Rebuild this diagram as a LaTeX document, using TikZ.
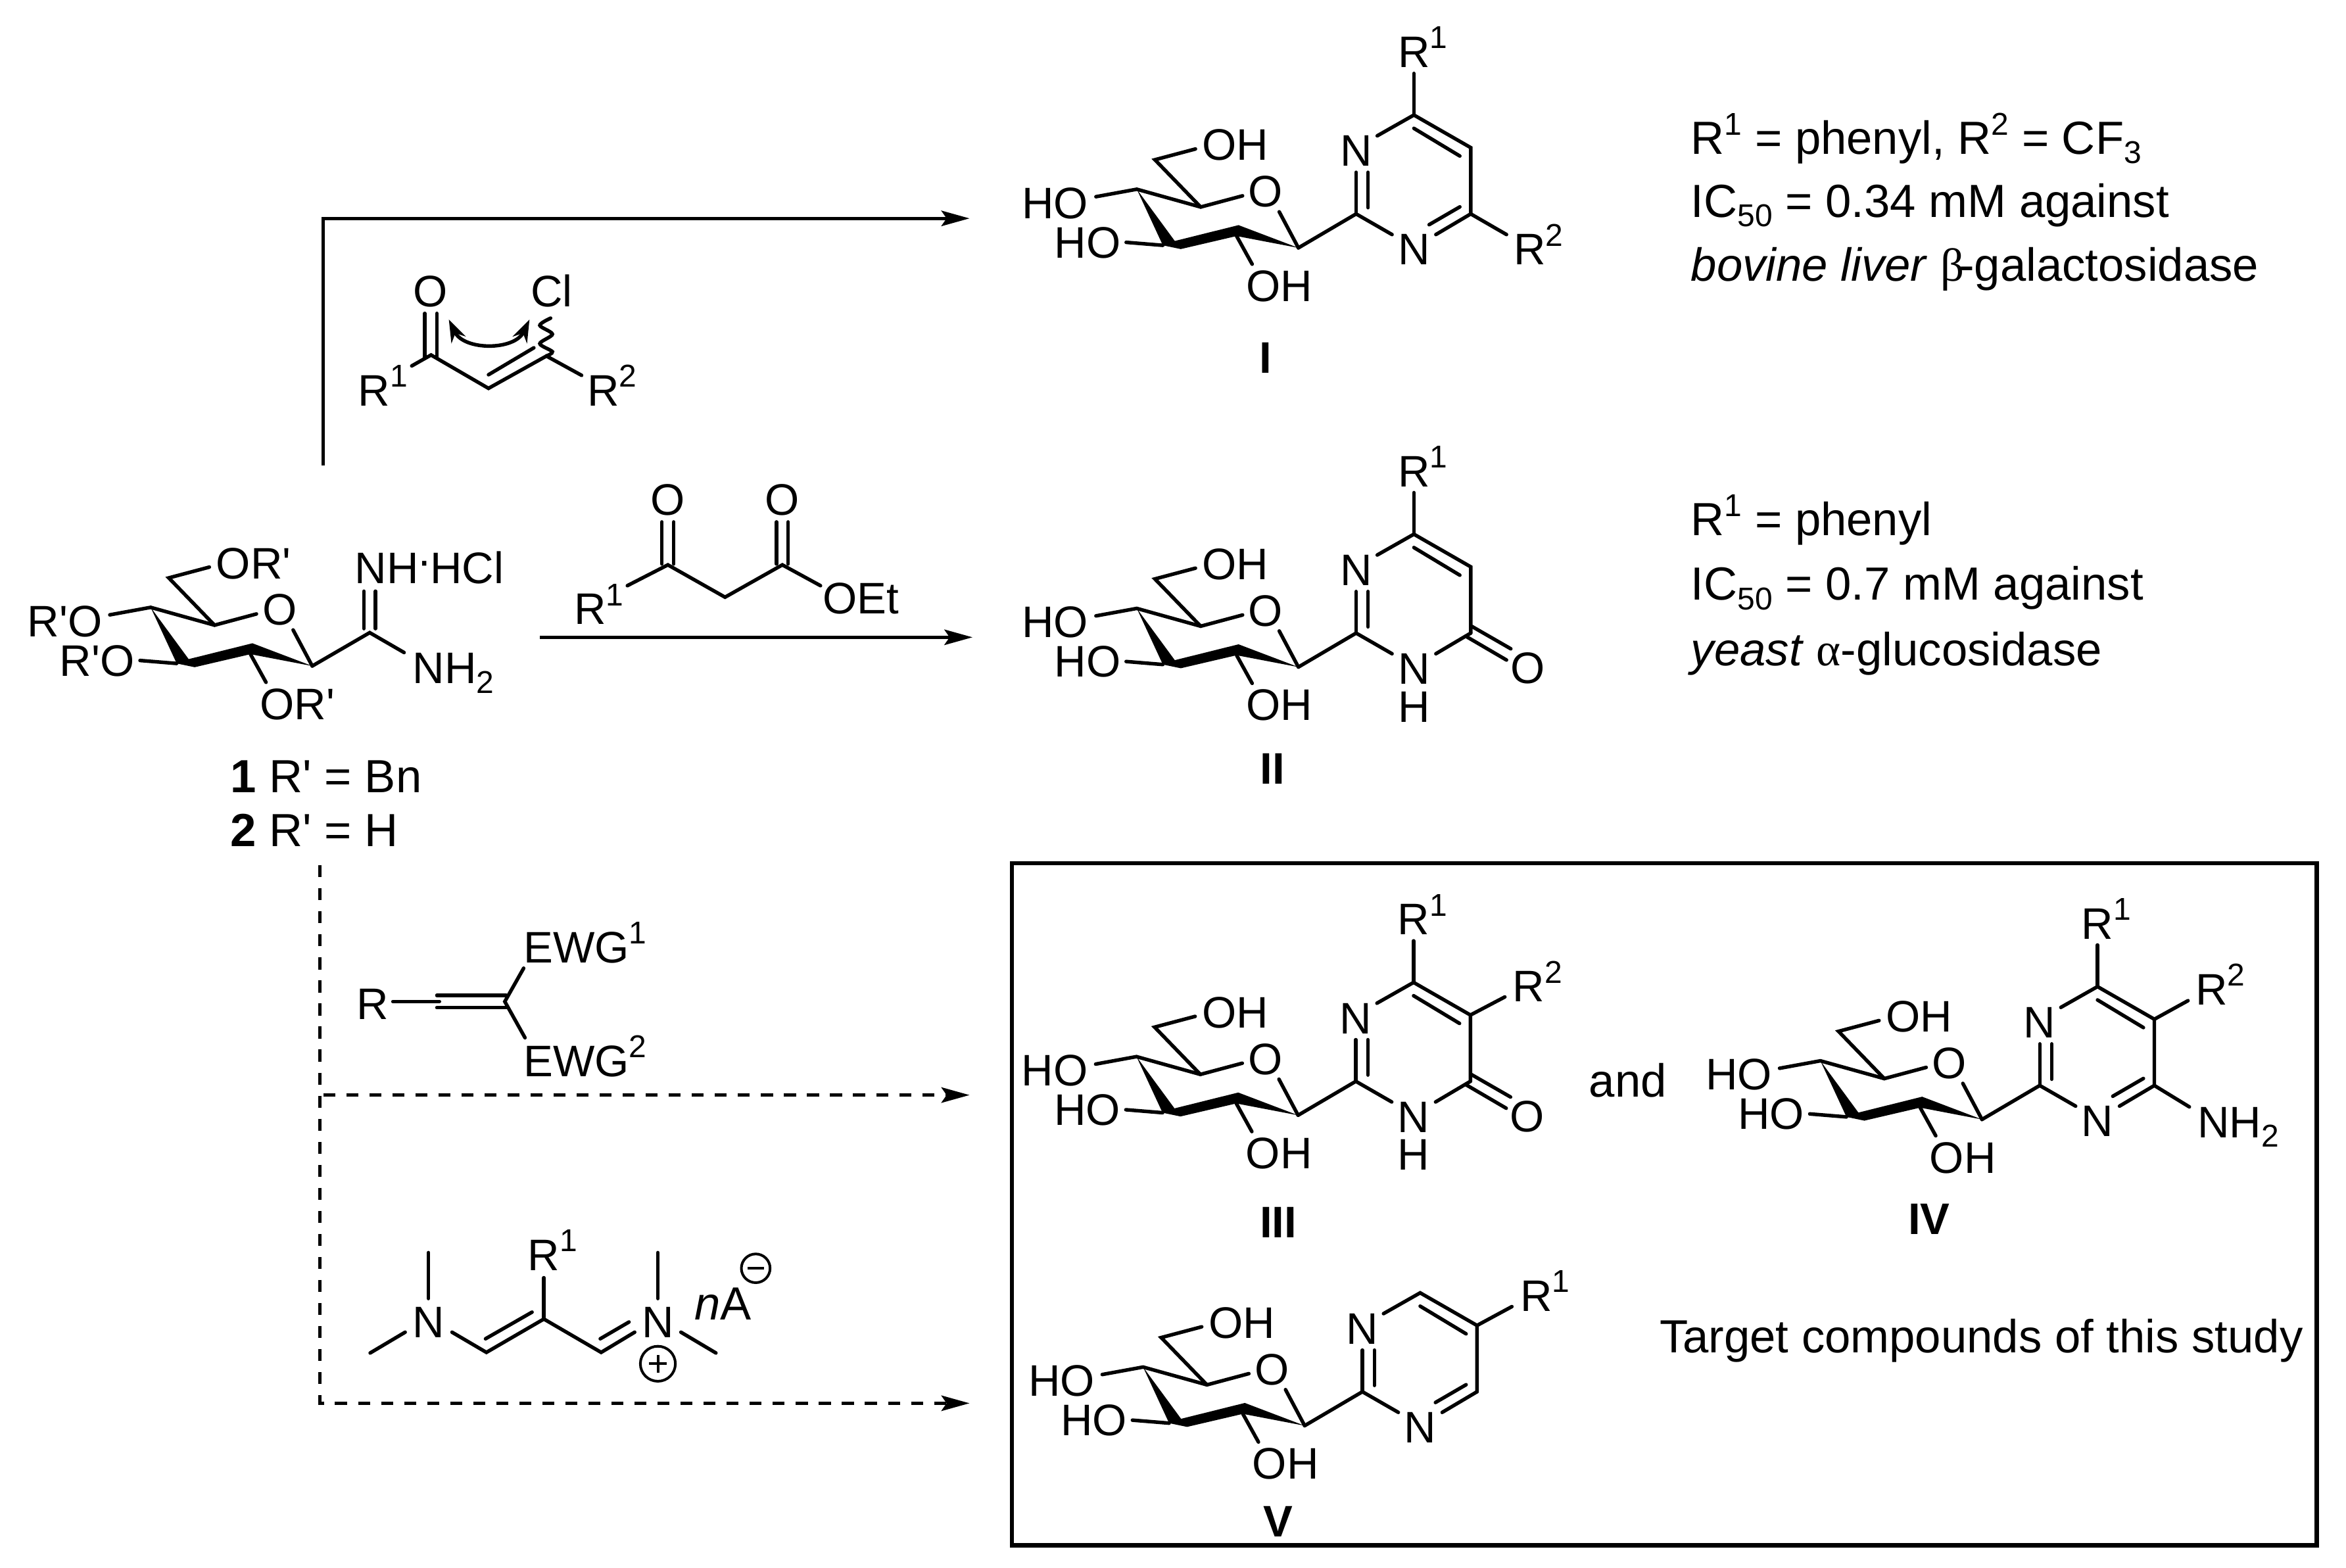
\documentclass[tikz,border=0pt]{standalone}
\usepackage{fontspec}
\setmainfont{Liberation Sans}
\newfontfamily\greekfont{Liberation Serif}
\usetikzlibrary{arrows.meta}

\newcommand{\up}[1]{\raisebox{3.6pt}{\fontsize{6}{6}\selectfont #1}}
\newcommand{\down}[1]{\raisebox{-1.8pt}{\fontsize{6}{6}\selectfont #1}}
\newcommand{\pr}{\textquotesingle}

\tikzset{
  bond/.style={line width=0.68pt, line cap=round},
  atom/.style={inner sep=0pt, text height=6pt, text depth=0pt, font=\fontsize{8.4}{10}\selectfont},
  cmpd/.style={atom, font=\fontsize{8.4}{10}\selectfont\bfseries},
  note/.style={atom, anchor=west, text height=6.3pt, font=\fontsize{8.84}{10.5}\selectfont},
  rxn/.style={line width=0.6pt, -{Stealth[length=1.88mm, width=1.03mm, inset=0.35mm]}},
  dashrxn/.style={rxn, dash pattern=on 0.8mm off 0.74mm},
  curly/.style={bond, {Stealth[length=1.5mm, width=1.05mm]}-{Stealth[length=1.5mm, width=1.05mm]}},
}

% glucose ring, origin at the anomeric carbon
\newcommand{\sugar}[3]{
  \draw [bond] (-135.3, -34.2) -- (-108, -39.2) -- (-65.3, -27.3) -- (-37.3, -34.8);
  \draw [bond] (-65.3, -27.3) -- (-95.9, -58.9) -- (-68.8, -66.1);
  \draw [bond] (-12.8, -24.1) -- (0, 0);
  \fill (-108, -39.2) -- (-82.6, -4.6) -- (-40, -15.2) -- (0, 0) -- (-41.3, -7.9) -- (-78.6, 0.8) -- (-90.6, -1.7) -- cycle;
  \draw [bond] (-115.1, -3.7) -- (-90.6, -1.7);
  \draw [bond] (-41.3, -7.9) -- (-30.9, 10.9);
  \node [atom] (#1ring) at (-21.8, -37.9) {O};
  \node [atom, anchor=east] (#1left) at (-139.7, -30.3) {#2};
  \node [atom, anchor=east] (#1lower) at (-118.1, -3.9) {#2};
  \node [atom, anchor=west] (#1top) at (-64.9, -69) {#3};
  \node [atom, anchor=west] (#1bottom) at (-35.6, 25.2) {#3};
}

% pyrimidine part shared by the products
\newcommand{\pyrim}[1]{
  \draw [bond] (0, 0) -- (38.6, -22.7) -- (62.6, -8.9);
  \draw [bond] (38.6, -22.7) -- (38.6, -50.5);
  \draw [bond] (46.6, -26.9) -- (46.6, -50.5);
  \draw [bond] (52.7, -74.9) -- (77.2, -88.8) -- (115.2, -67) -- (115.2, -22.7);
  \draw [bond] (77.2, -79.9) -- (107.9, -61.4);
  \node [atom] (#1na) at (38.6, -65.1) {N};
  \node [atom] (#1nb) at (77.2, 0.8) {N};
}

\begin{document}
\begin{tikzpicture}[x=0.1mm, y=-0.1mm]
    \useasboundingbox (0, 0) rectangle (1568, 1048);

    % starting material
    \begin{scope}[shift={(208.7, 445.2)}]
      \sugar{sm}{R\pr O}{OR\pr}
      \draw [bond] (0, 0) -- (38.4, -22.3) -- (61.4, -9);
      \draw [bond] (34.5, -25) -- (34.5, -50);
      \draw [bond] (42.3, -25) -- (42.3, -50);
      \node [atom, anchor=west] (smnh) at (27.8, -65.5) {NH\kern-0.3pt\raisebox{1.5pt}{·}\kern-0.3pt HCl};
      \node [atom, anchor=west] (smnhb) at (66.5, 1.2) {NH\down{2}};
    \end{scope}
    \node [note] (cmpa) at (153.5, 518.6) {\textbf{1} R\pr{} = Bn};
    \node [note] (cmpb) at (153.5, 554.8) {\textbf{2} R\pr{} = H};

    % reaction arrows
    \coordinate (topstart) at (216, 311);
    \coordinate (topend) at (648, 146);
    \coordinate (midstart) at (360.8, 426);
    \coordinate (midend) at (650, 426);
    \coordinate (dashtop) at (213.9, 578.4);
    \coordinate (dashbot) at (213.9, 938);
    \coordinate (dashend) at (648, 938);
    \coordinate (dashmid) at (216, 732);
    \coordinate (dashmidend) at (648, 732);
    \draw [rxn] (topstart) |- (topend);
    \draw [rxn] (midstart) -- (midend);
    \draw [dashrxn] (dashtop) -- (dashbot) -- (dashend);
    \draw [dashrxn] (dashmid) -- (dashmidend);

    % chloro enone
    \draw [bond] (275.2, 244.6) -- (288.1, 237.3) -- (326.5, 259.6) -- (365.2, 238) -- (388.7, 250.9);
    \draw [bond] (283.9, 209.5) -- (283.9, 239);
    \draw [bond] (292, 209.5) -- (292, 239);
    \draw [bond] (326.5, 250.5) -- (356.8, 232.5);
    \draw [bond] plot [smooth] coordinates {(365.2, 238) (369.2, 235.1) (360.8, 229.7) (369.2, 223.4) (360.8, 217.5) (368, 212.7)};
    \draw [curly] (300, 213.6) .. controls (310, 234.5) and (344, 234.5) .. (353.9, 213.6);
    \node [atom] (enoneo) at (287.8, 194.4) {O};
    \node [atom, anchor=west] (enonecl) at (354.1, 194.4) {Cl};
    \node [atom] (enonera) at (250, 260.8) {R\rlap{\up{1}}};
    \node [atom] (enonerb) at (403.3, 260.8) {R\rlap{\up{2}}};

    % keto ester
    \draw [bond] (419.3, 391.5) -- (446.4, 377.6) -- (484.6, 399.2) -- (522.9, 377.6) -- (548.4, 391.5);
    \draw [bond] (442.4, 348.9) -- (442.4, 377);
    \draw [bond] (450.3, 348.9) -- (450.3, 377);
    \draw [bond] (519, 348.9) -- (519, 377);
    \draw [bond] (526.8, 348.9) -- (526.8, 377);
    \node [atom] (estera) at (446.4, 333.7) {O};
    \node [atom] (esterb) at (522.9, 333.7) {O};
    \node [atom] (esterr) at (394.4, 406.9) {R\rlap{\up{1}}};
    \node [atom, anchor=west] (esteret) at (549.2, 399.6) {OEt};

    % alkene
    \draw [bond] (262.6, 669.5) -- (293.7, 669.5);
    \draw [bond] (292, 665.4) -- (338.3, 665.4);
    \draw [bond] (292, 673.6) -- (338.3, 673.6);
    \draw [bond] (350, 647.2) -- (337.4, 669.5) -- (350.9, 693.7);
    \node [atom] (alkr) at (249.1, 671) {R};
    \node [atom, anchor=west] (alka) at (349.2, 632.9) {EWG\up{1}};
    \node [atom, anchor=west] (alkb) at (349.2, 709) {EWG\up{2}};

    % vinamidinium salt
    \draw [bond] (286.4, 837.3) -- (286.4, 868);
    \draw [bond] (247.4, 904.4) -- (270.8, 890.5);
    \draw [bond] (302.1, 890.5) -- (325.1, 904) -- (363.5, 881.7) -- (401.8, 904) -- (424.2, 890.5);
    \draw [bond] (324.5, 894.9) -- (355.6, 877.1);
    \draw [bond] (363.5, 881.7) -- (363.5, 854.1);
    \draw [bond] (401.2, 894.9) -- (420.4, 883.7);
    \draw [bond] (439.7, 837.3) -- (439.7, 868);
    \draw [bond] (455.1, 890.5) -- (478.5, 904.4);
    \node [atom] (vina) at (286.4, 883.4) {N};
    \node [atom] (vinb) at (439.7, 883.4) {N};
    \node [atom] (vinr) at (363.5, 838.8) {R\rlap{\up{1}}};
    \node [note, anchor=east] (vinan) at (503, 871) {\textit{n}A};
    \draw [line width=0.5pt] (439.7, 911.6) circle (11.7);
    \draw [line width=0.5pt] (433.8, 911.6) -- (445.6, 911.6) (439.7, 905.7) -- (439.7, 917.5);
    \draw [line width=0.5pt] (505.1, 847.8) circle (9.6);
    \draw [line width=0.5pt] (499.6, 847.8) -- (510.6, 847.8);

    % compound I
    \begin{scope}[shift={(867.8, 165.7)}]
      \sugar{a}{HO}{OH}
      \pyrim{a}
      \draw [bond] (77.2, -88.8) -- (77.2, -116.6);
      \draw [bond] (107.9, -27.4) -- (87.4, -15.5);
      \draw [bond] (91.9, -8.9) -- (115.2, -22.7) -- (139.1, -8.9);
      \node [atom] (ara) at (77.2, -131.2) {R\rlap{\up{1}}};
      \node [atom] (arb) at (154.5, 0.8) {R\rlap{\up{2}}};
    \end{scope}
    \node [cmpd] (cmpi) at (846, 238.8) {I};

    % compound II
    \begin{scope}[shift={(867.8, 445.9)}]
      \sugar{b}{HO}{OH}
      \pyrim{b}
      \draw [bond] (77.2, -88.8) -- (77.2, -116.6);
      \draw [bond] (91.9, -8.9) -- (115.2, -22.7);
      \draw [bond] (111.9, -20.6) -- (139.1, -4.7);
      \draw [bond] (115.9, -27.2) -- (142, -12.2);
      \node [atom] (bra) at (77.2, -131.2) {R\rlap{\up{1}}};
      \node [atom] (bh) at (77.2, 26.1) {H};
      \node [atom] (bo) at (153.2, 0.3) {O};
    \end{scope}
    \node [cmpd] (cmpii) at (850.5, 513.7) {II};

    % target box
    \node [draw, line width=0.8pt, inner sep=0pt, minimum width=87.21mm, minimum height=45.6mm] (box) at (1112.45, 805) {};

    % compound III
    \begin{scope}[shift={(867.6, 745.5)}]
      \sugar{c}{HO}{OH}
      \pyrim{c}
      \draw [bond] (77.2, -88.8) -- (77.2, -116.6);
      \draw [bond] (91.9, -8.9) -- (115.2, -22.7);
      \draw [bond] (111.9, -20.6) -- (139.1, -4.7);
      \draw [bond] (115.9, -27.2) -- (142, -12.2);
      \draw [bond] (115.2, -67) -- (138.2, -79.1);
      \node [atom] (cra) at (77.2, -131.2) {R\rlap{\up{1}}};
      \node [atom] (crb) at (154.1, -86.3) {R\rlap{\up{2}}};
      \node [atom] (ch) at (77.2, 26.1) {H};
      \node [atom] (co) at (153.2, 0.3) {O};
    \end{scope}
    \node [cmpd] (cmpiii) at (854.4, 816.9) {III};
    \node [note, anchor=center] (andtext) at (1088, 722) {and};

    % compound IV
    \begin{scope}[shift={(1324.7, 748.3)}]
      \sugar{d}{HO}{OH}
      \pyrim{d}
      \draw [bond] (77.2, -88.8) -- (77.2, -116.6);
      \draw [bond] (107.9, -27.4) -- (87.4, -15.5);
      \draw [bond] (91.9, -8.9) -- (115.2, -22.7) -- (138.6, -8.4);
      \draw [bond] (115.2, -67) -- (137.7, -79.4);
      \node [atom] (dra) at (77.2, -131.2) {R\rlap{\up{1}}};
      \node [atom] (drb) at (153.5, -87) {R\rlap{\up{2}}};
      \node [atom, anchor=west] (dnh) at (143.3, 1.7) {NH\down{2}};
    \end{scope}
    \node [cmpd] (cmpiv) at (1289.4, 814.7) {IV};

    % compound V
    \begin{scope}[shift={(872, 953)}]
      \sugar{e}{HO}{OH}
      \pyrim{e}
      \draw [bond] (107.9, -27.4) -- (87.4, -15.5);
      \draw [bond] (91.9, -8.9) -- (115.2, -22.7);
      \draw [bond] (115.2, -67) -- (138.5, -79.6);
      \node [atom] (era) at (154.8, -87.2) {R\rlap{\up{1}}};
    \end{scope}
    \node [cmpd] (cmpv) at (854.4, 1016.7) {V};
    \node [note] (target) at (1108.5, 893) {Target compounds of this study};

    % activity notes
    \node [note] (nota) at (1129.5, 92) {R\up{1} = phenyl, R\up{2} = CF\down{3}};
    \node [note] (notb) at (1129.5, 134) {IC\down{50} = 0.34 mM against};
    \node [note] (notc) at (1129.5, 177) {\textit{bovine liver} {\greekfont β}\kern-1pt-galactosidase};
    \node [note] (notd) at (1129.5, 347) {R\up{1} = phenyl};
    \node [note] (note) at (1129.5, 390) {IC\down{50} = 0.7 mM against};
    \node [note] (notf) at (1129.5, 434) {\textit{yeast} {\greekfont α}-glucosidase};
  \end{tikzpicture}
\end{document}
